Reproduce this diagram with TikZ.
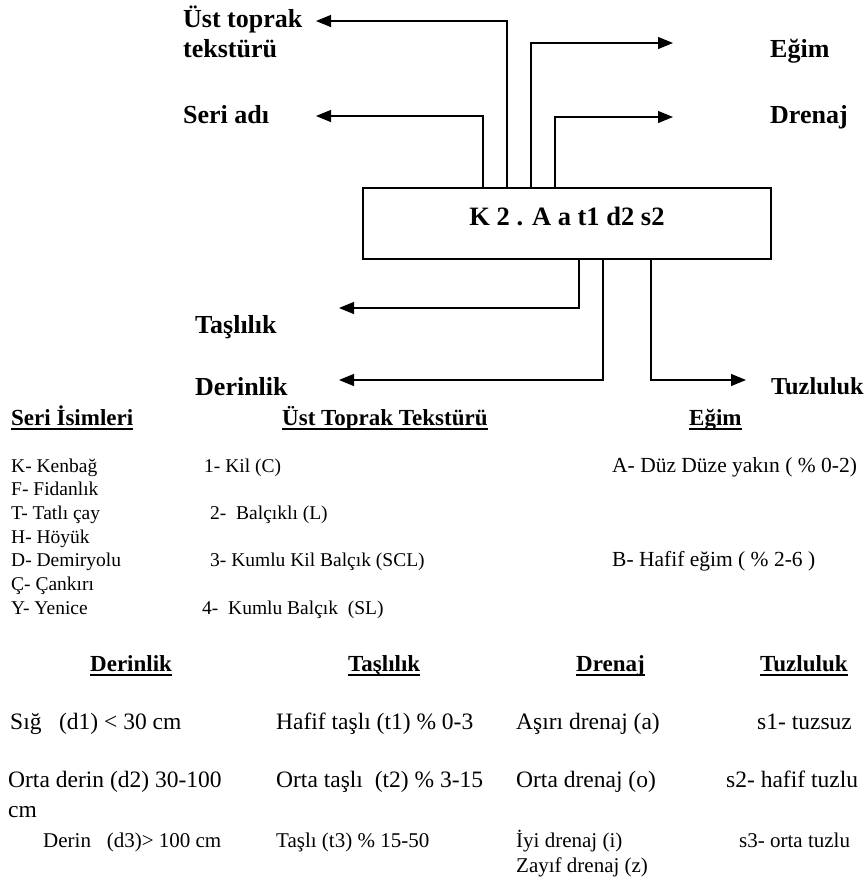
\documentclass[tikz,border=0pt]{standalone}
\usepackage{fontspec}
\setmainfont{Liberation Serif}
\usetikzlibrary{arrows.meta}
\begin{document}
\begin{tikzpicture}[x=1pt,y=-1pt,
  conn/.style={line width=1.2pt,-{Triangle[length=15pt,width=12pt]}},
  lbl/.style={anchor=base west,inner sep=0pt,align=left,font=\fontsize{26}{30}\selectfont\bfseries},
  hd/.style={anchor=base west,inner sep=0pt,font=\fontsize{23}{27}\selectfont\bfseries},
  txt/.style={anchor=base west,inner sep=0pt,align=left,font=\fontsize{19.5}{24}\selectfont},
  slope/.style={anchor=base west,inner sep=0pt,font=\fontsize{21.5}{24}\selectfont},
  tbl/.style={anchor=base west,inner sep=0pt,align=left,font=\fontsize{23.5}{30}\selectfont},
  sml/.style={anchor=base west,inner sep=0pt,align=left,font=\fontsize{21}{26}\selectfont},
  uline/.style={line width=1.6pt}
]
\useasboundingbox (0,0) rectangle (868,895);

% central box
\node[draw,line width=1.4pt,minimum width=408pt,minimum height=71pt,inner sep=0pt] (box) at (567,223.5) {};
\node[anchor=base,inner sep=0pt,font=\fontsize{26.5}{30}\selectfont\bfseries] (code) at (567,225) {K 2 . A a t1 d2 s2};

% labels around the box (multi-line nodes: base = last line)
\node[lbl] (ust) at (183,57) {Üst toprak\\tekstürü};
\node[lbl] (seri) at (183,123) {Seri adı};
\node[lbl] (egim) at (770,57) {Eğim};
\node[lbl] (dren) at (770,123) {Drenaj};
\node[lbl] (tas) at (195,333) {Taşlılık};
\node[lbl] (der) at (195,395) {Derinlik};
\node[lbl,font=\fontsize{24.3}{30}\selectfont\bfseries] (tuz) at (771,394) {Tuzluluk};

% arrow tips
\coordinate (tUst) at (316,21);
\coordinate (tSeri) at (316,116);
\coordinate (tEgim) at (673,43);
\coordinate (tDren) at (673,117);
\coordinate (tTas) at (339,308);
\coordinate (tDer) at (339,380);
\coordinate (tTuz) at (746,380);

\draw[conn] ([xshift=-84pt]box.north) |- (tSeri);
\draw[conn] ([xshift=-60pt]box.north) |- (tUst);
\draw[conn] ([xshift=-36pt]box.north) |- (tEgim);
\draw[conn] ([xshift=-12pt]box.north) |- (tDren);
\draw[conn] ([xshift=12pt]box.south) |- (tTas);
\draw[conn] ([xshift=36pt]box.south) |- (tDer);
\draw[conn] ([xshift=84pt]box.south) |- (tTuz);

% legend headings, first block
\node[hd] (h1) at (11,425) {Seri İsimleri};
\node[hd] (h2) at (282,425) {Üst Toprak Tekstürü};
\node[hd] (h3) at (689,425) {Eğim};

% series names
\node[txt] (k) at (11,472) {K- Kenbağ};
\node[txt] (f) at (11,495.7) {F- Fidanlık};
\node[txt] (t) at (11,519.4) {T- Tatlı çay};
\node[txt] (h) at (11,543.1) {H- Höyük};
\node[txt] (d) at (11,566.8) {D- Demiryolu};
\node[txt] (c) at (11,590.5) {Ç- Çankırı};
\node[txt] (y) at (11,614.2) {Y- Yenice};

% textures
\node[txt] (u1) at (204,472) {1- Kil (C)};
\node[txt] (u2) at (210,519.4) {2-\ \ Balçıklı (L)};
\node[txt] (u3) at (210,566.8) {3- Kumlu Kil Balçık (SCL)};
\node[txt] (u4) at (202,614.2) {4-\ \ Kumlu Balçık\ \ (SL)};

% slope
\node[slope] (ea) at (612,472) {A- Düz Düze yakın ( \% 0-2)};
\node[slope] (eb) at (612,566.8) {B- Hafif eğim ( \% 2-6 )};

% second block headings
\node[hd] (g1) at (90,671) {Derinlik};
\node[hd] (g2) at (348,671) {Taşlılık};
\node[hd] (g3) at (576,671) {Drenaj};
\node[hd] (g4) at (760,671) {Tuzluluk};

% rows
\node[tbl] (r11) at (10,729) {Sığ\ \ \ (d1) < 30 cm};
\node[tbl] (r12) at (276,729) {Hafif taşlı (t1) \% 0-3};
\node[tbl] (r13) at (516,729) {Aşırı drenaj (a)};
\node[tbl] (r14) at (757,729) {s1- tuzsuz};

\node[tbl] (r21) at (8,817) {Orta derin (d2) 30-100\\cm};
\node[tbl] (r22) at (276,787) {Orta taşlı\ \ (t2) \% 3-15};
\node[tbl] (r23) at (516,787) {Orta drenaj (o)};
\node[tbl] (r24) at (726,787) {s2- hafif tuzlu};

\node[sml] (r31) at (43,847) {Derin\ \ \ (d3)> 100 cm};
\node[sml] (r32) at (276,847) {Taşlı (t3) \% 15-50};
\node[sml,font=\fontsize{21}{25}\selectfont] (r33) at (516,872) {İyi drenaj (i)\\Zayıf drenaj (z)};
\node[sml] (r34) at (739,847) {s3- orta tuzlu};

% underlines
\foreach \n in {h1,h2,h3,g1,g2,g3,g4}{
  \draw[uline] ([yshift=-4pt]\n.base west) -- ([yshift=-4pt]\n.base east);
}
\end{tikzpicture}
\end{document}
